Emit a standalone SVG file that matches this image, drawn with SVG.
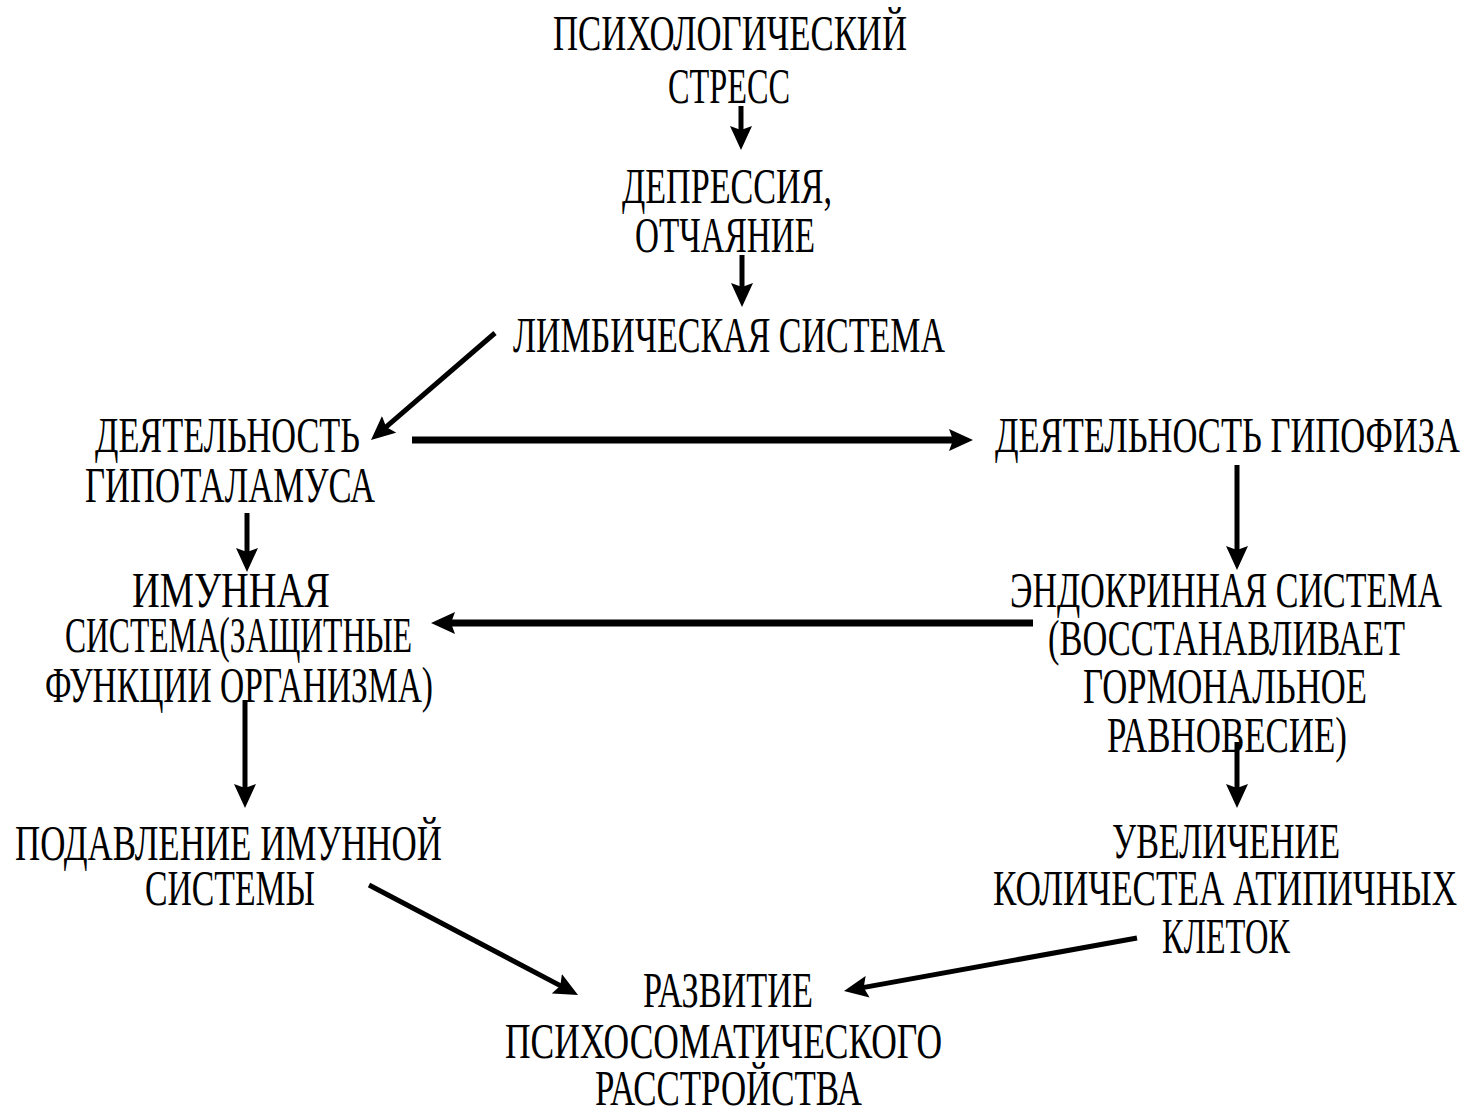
<svg xmlns="http://www.w3.org/2000/svg" width="1470" height="1109" viewBox="0 0 1470 1109">
  <style>
    .t { font-family: "Liberation Serif", "Times New Roman", serif; font-size: 50px; fill: #000; }
    .c { stroke: #000; fill: none; stroke-linecap: butt; }
    .thin { stroke-width: 5; }
    .thick { stroke-width: 7; }
  </style>
  <defs>
    <marker id="ah" viewBox="0 0 24 22" refX="12" refY="11" markerWidth="24" markerHeight="22" markerUnits="userSpaceOnUse" orient="auto">
      <path d="M0,0 L24,11 L0,22 L4,11 z" fill="#000"/>
    </marker>
  </defs>
  <rect width="1470" height="1109" fill="#fff"/>

  <g id="connectors">
    <line class="c thin" x1="741" y1="106" x2="741" y2="138" marker-end="url(#ah)"/>
    <line class="c thin" x1="742" y1="255" x2="742" y2="295" marker-end="url(#ah)"/>
    <line class="c thin" x1="495" y1="333" x2="380.1" y2="432.2" marker-end="url(#ah)"/>
    <line class="c thick" x1="412" y1="440" x2="961" y2="440" marker-end="url(#ah)"/>
    <line class="c thin" x1="1237" y1="465" x2="1237" y2="558" marker-end="url(#ah)"/>
    <line class="c thick" x1="1033" y1="623" x2="443" y2="623" marker-end="url(#ah)"/>
    <line class="c thin" x1="247" y1="513" x2="247" y2="560" marker-end="url(#ah)"/>
    <line class="c thin" x1="245" y1="700" x2="245" y2="796" marker-end="url(#ah)"/>
    <line class="c thin" x1="1237" y1="742" x2="1237" y2="796" marker-end="url(#ah)"/>
    <line class="c thin" x1="369" y1="885" x2="567.4" y2="989.4" marker-end="url(#ah)"/>
    <line class="c thin" x1="1137" y1="938" x2="855.8" y2="988.9" marker-end="url(#ah)"/>
  </g>

  <g id="n-stress">
    <text class="t" x="553" y="50" textLength="354" lengthAdjust="spacingAndGlyphs">ПСИХОЛОГИЧЕСКИЙ</text>
    <text class="t" x="668" y="103" textLength="122" lengthAdjust="spacingAndGlyphs">СТРЕСС</text>
  </g>
  <g id="n-depression">
    <text class="t" x="622" y="203" textLength="210" lengthAdjust="spacingAndGlyphs">ДЕПРЕССИЯ,</text>
    <text class="t" x="635" y="252" textLength="180" lengthAdjust="spacingAndGlyphs">ОТЧАЯНИЕ</text>
  </g>
  <g id="n-limbic">
    <text class="t" x="513" y="352" textLength="432" lengthAdjust="spacingAndGlyphs">ЛИМБИЧЕСКАЯ СИСТЕМА</text>
  </g>
  <g id="n-hypothalamus">
    <text class="t" x="95" y="452" textLength="265" lengthAdjust="spacingAndGlyphs">ДЕЯТЕЛЬНОСТЬ</text>
    <text class="t" x="85" y="502" textLength="290" lengthAdjust="spacingAndGlyphs">ГИПОТАЛАМУСА</text>
  </g>
  <g id="n-hypophysis">
    <text class="t" x="995" y="452" textLength="465" lengthAdjust="spacingAndGlyphs">ДЕЯТЕЛЬНОСТЬ ГИПОФИЗА</text>
  </g>
  <g id="n-immune">
    <text class="t" x="132" y="607" textLength="198" lengthAdjust="spacingAndGlyphs">ИМУННАЯ</text>
    <text class="t" x="65" y="652" textLength="347" lengthAdjust="spacingAndGlyphs">СИСТЕМА(ЗАЩИТНЫЕ</text>
    <text class="t" x="45" y="702" textLength="388" lengthAdjust="spacingAndGlyphs">ФУНКЦИИ ОРГАНИЗМА)</text>
  </g>
  <g id="n-endocrine">
    <text class="t" x="1010" y="607" textLength="432" lengthAdjust="spacingAndGlyphs">ЭНДОКРИННАЯ СИСТЕМА</text>
    <text class="t" x="1048" y="655" textLength="357" lengthAdjust="spacingAndGlyphs">(ВОССТАНАВЛИВАЕТ</text>
    <text class="t" x="1083" y="703" textLength="284" lengthAdjust="spacingAndGlyphs">ГОРМОНАЛЬНОЕ</text>
    <text class="t" x="1107" y="752" textLength="240" lengthAdjust="spacingAndGlyphs">РАВНОВЕСИЕ)</text>
  </g>
  <g id="n-suppression">
    <text class="t" x="15" y="860" textLength="427" lengthAdjust="spacingAndGlyphs">ПОДАВЛЕНИЕ ИМУННОЙ</text>
    <text class="t" x="145" y="905" textLength="170" lengthAdjust="spacingAndGlyphs">СИСТЕМЫ</text>
  </g>
  <g id="n-atypical">
    <text class="t" x="1112" y="858" textLength="228" lengthAdjust="spacingAndGlyphs">УВЕЛИЧЕНИЕ</text>
    <text class="t" x="993" y="905" textLength="464" lengthAdjust="spacingAndGlyphs">КОЛИЧЕСТЕА АТИПИЧНЫХ</text>
    <text class="t" x="1162" y="953" textLength="128" lengthAdjust="spacingAndGlyphs">КЛЕТОК</text>
  </g>
  <g id="n-result">
    <text class="t" x="643" y="1007" textLength="170" lengthAdjust="spacingAndGlyphs">РАЗВИТИЕ</text>
    <text class="t" x="505" y="1058" textLength="437" lengthAdjust="spacingAndGlyphs">ПСИХОСОМАТИЧЕСКОГО</text>
    <text class="t" x="595" y="1105" textLength="267" lengthAdjust="spacingAndGlyphs">РАССТРОЙСТВА</text>
  </g>
</svg>
